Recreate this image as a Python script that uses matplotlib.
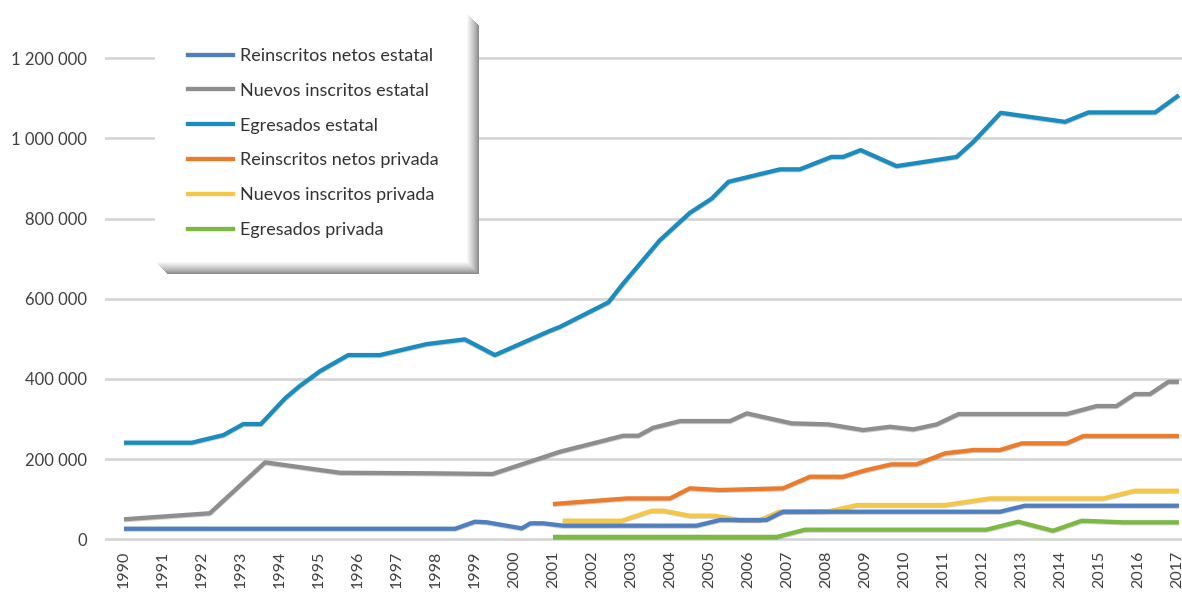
import matplotlib
matplotlib.use("Agg")
import matplotlib.pyplot as plt
import matplotlib.patheffects as pe
from matplotlib.patches import Rectangle
from matplotlib.lines import Line2D
from matplotlib.ticker import FuncFormatter

plt.rcParams['font.family'] = ['Lato', 'DejaVu Sans']

# ---------------- data ----------------
labels = ["Reinscritos netos estatal", "Nuevos inscritos estatal", "Egresados estatal",
          "Reinscritos netos privada", "Nuevos inscritos privada", "Egresados privada"]
colors = ["#4F7FBE", "#8E8E8E", "#1B8CBE", "#EC7C2C", "#F6C646", "#7CB942"]

reins_est_x = [1990, 1998.49, 1999.0, 1999.3, 2000.2, 2000.42, 2000.75, 2001.26, 2004.68,
               2005.28, 2006.47, 2006.9, 2012.46, 2013.1, 2017.05]
reins_est_y = [26400, 26400, 43900, 42500, 27400, 39900, 39900, 34000, 34000,
               48100, 48100, 68800, 68800, 83800, 83800]

nuevos_est_x = [1990, 1992.2, 1993.62, 1995.54, 1997.93, 1999.45, 2001.18, 2002.8, 2003.19,
                2003.57, 2004.26, 2005.54, 2005.97, 2007.12, 2008.06, 2008.96, 2009.64,
                2010.24, 2010.84, 2011.4, 2014.17, 2014.94, 2015.45, 2015.92, 2016.31,
                2016.78, 2017.05]
nuevos_est_y = [50000, 65000, 192000, 166000, 164600, 163000, 218500, 258400, 258400,
                278300, 295000, 295000, 314200, 289300, 286800, 272600, 280800,
                274300, 286800, 312500, 312500, 332500, 332500, 362400, 362400,
                393000, 393000]

egr_est_x = [1990, 1991.74, 1992.55, 1993.06, 1993.51, 1994.13, 1994.5, 1995.03, 1995.75,
             1996.56, 1997.76, 1998.74, 1999.51, 2000.92, 2001.18, 2002.42, 2002.8, 2003.74,
             2004.51, 2005.07, 2005.5, 2006.82, 2007.33, 2008.14, 2008.44, 2008.89, 2009.81,
             2011.35, 2011.78, 2012.48, 2014.13, 2014.73, 2016.44, 2017.05]
egr_est_y = [241000, 241000, 260000, 287500, 287500, 351600, 382000, 419700, 459600,
             459600, 487000, 498800, 459600, 520000, 530000, 591000, 638000, 746000,
             814500, 850000, 892000, 923000, 923000, 954000, 954000, 971000, 931000,
             954000, 991600, 1064000, 1041500, 1065000, 1065000, 1108000]

reins_priv_x = [2001.0, 2002.89, 2004.0, 2004.51, 2005.28, 2006.9, 2007.59, 2008.44, 2009.04,
                2009.68, 2010.32, 2011.05, 2011.78, 2012.46, 2013.02, 2014.17, 2014.6, 2017.05]
reins_priv_y = [88000, 102000, 102000, 127200, 123000, 127200, 156100, 156100, 172800,
                187000, 187000, 214500, 222800, 222800, 239400, 239400, 257600, 257600]

nuevos_priv_x = [2001.25, 2002.76, 2003.53, 2003.83, 2004.51, 2005.15, 2005.79, 2006.31,
                 2006.8, 2008.1, 2008.8, 2011.05, 2012.2, 2015.11, 2015.92, 2017.05]
nuevos_priv_y = [46400, 46400, 71300, 71300, 58900, 58900, 48100, 48100,
                 68800, 70500, 85500, 85500, 102000, 102000, 121200, 121200]

egr_priv_x = [2001.0, 2006.74, 2007.46, 2012.11, 2012.93, 2013.82, 2014.56, 2015.62, 2017.05]
egr_priv_y = [6000, 6000, 24000, 24000, 43900, 21400, 46400, 42400, 42400]

years = list(range(1990, 2018))
yticks = [0, 200000, 400000, 600000, 800000, 1000000, 1200000]

series = [(reins_est_x, reins_est_y), (nuevos_est_x, nuevos_est_y), (egr_est_x, egr_est_y),
          (reins_priv_x, reins_priv_y), (nuevos_priv_x, nuevos_priv_y), (egr_priv_x, egr_priv_y)]
zorders = [9, 4, 4, 4, 3, 4]

# ---------------- layout helpers ----------------
W, H = 1182, 592
def fx(px): return px / W
def fy(py): return 1 - py / H

fig = plt.figure(figsize=(W / 100, H / 100), dpi=100)
ax_l, ax_r, ax_t, ax_b = 105, 1182, 40, 545
ax = fig.add_axes([fx(ax_l), fy(ax_b), fx(ax_r) - fx(ax_l), fy(ax_t) - fy(ax_b)])

x0px, xstep = 124, 39.0
ax.set_xlim(1990 + (ax_l - x0px) / xstep, 1990 + (ax_r - x0px) / xstep)
y0px, ytop = 539.3, 58.3
vpp = 1200000 / (y0px - ytop)
ax.set_ylim((y0px - ax_b) * vpp, (y0px - ax_t) * vpp)

for (xs, ys), c, z in zip(series, colors, zorders):
    ax.plot(xs, ys, color=c, lw=3.1, zorder=z, solid_capstyle='butt', solid_joinstyle='round',
            path_effects=[pe.SimpleLineShadow(offset=(0, -0.7), shadow_color='k', alpha=0.18),
                          pe.Normal()])

ax.set_yticks(yticks)
ax.yaxis.set_major_formatter(FuncFormatter(lambda v, p: f"{int(v):,}".replace(",", " ")))
ax.set_xticks(years)
ax.set_xticklabels([str(y) for y in years], rotation=90)
ax.tick_params(axis='both', length=0, labelsize=12, labelcolor='#404040')
ax.tick_params(axis='y', pad=13)
ax.tick_params(axis='x', labelsize=11.5, pad=4)
for s in ax.spines.values():
    s.set_visible(False)
ax.set_axisbelow(True)
ax.grid(axis='y', color='#D3D3D3', lw=1.8)
ax.grid(axis='x', visible=False)

# ---------------- legend box with soft shadow ----------------
def rect(l, t, r, b, **kw):
    return Rectangle((fx(l), fy(b)), fx(r) - fx(l), fy(t) - fy(b), transform=fig.transFigure,
                     lw=0, **kw)

n = 12
dark = 0x8A
for k in range(n + 1):
    f = (k / n) ** 0.8
    g = int(dark + (255 - dark) * f)
    col = f"#{g:02x}{g:02x}{g:02x}"
    fig.patches.append(rect(155 + (n - k), 13 + (n - k), 479 - k, 274 - k,
                            facecolor=col, zorder=1 + k * 0.01))
fig.patches.append(rect(155, 13, 467, 262, facecolor='white', zorder=1.5))

handles = [Line2D([], [], color=c, lw=3.1) for c in colors]
leg = fig.legend(handles, labels, loc='upper left', bbox_to_anchor=(fx(188), fy(48)),
                 bbox_transform=fig.transFigure, frameon=False, fontsize=13,
                 borderpad=0, borderaxespad=0, handlelength=2.5, handletextpad=0.39,
                 labelspacing=1.04)
leg.set_zorder(3)
for t in leg.get_texts():
    t.set_color('#333333')

fig.savefig("out.png", dpi=100)
